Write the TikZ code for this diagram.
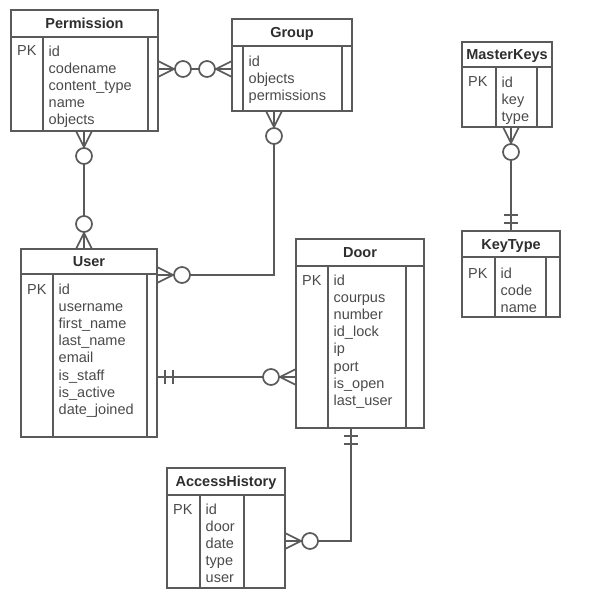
\documentclass[tikz,border=0pt]{standalone}
\usepackage{fontspec}
\setmainfont{Liberation Sans}
\usepackage{tikz}
\definecolor{edge}{HTML}{5A5A5A}
\definecolor{ink}{HTML}{2E2E2E}
\definecolor{soft}{HTML}{4A4A4A}
\tikzset{
  tbl/.style={draw=edge,line width=1.7pt,inner sep=0pt,outer sep=0pt,anchor=north west},
  ttl/.style={font=\bfseries\fontsize{14.5}{17.2}\selectfont,text=ink,anchor=base,inner sep=0pt},
  fld/.style={font=\fontsize{14.5}{17.2}\selectfont,text=soft,anchor=north west,align=left,inner sep=0pt},
  pk/.style={font=\fontsize{14.5}{17.2}\selectfont,text=soft,anchor=base west,inner sep=0pt},
  rel/.style={draw=edge,line width=1.7pt},
  zeromany/.pic={\draw[rel] (0,8) -- (16,0) -- (0,-8) (0,0) -- (16,0); \draw[rel,fill=white] (25,0) circle (8);},
  onlyone/.pic={\draw[rel] (8,-7) -- (8,7) (16,-7) -- (16,7);}
}

\begin{document}
\begin{tikzpicture}[x=1pt,y=-1pt]
  \useasboundingbox (0,0) rectangle (597,596);
  % Permission
  \node[tbl,minimum width=147,minimum height=121] (perm) at (11,10) {};
  \draw[rel] (11,37) -- (158,37) (43,37) -- (43,131) (148,37) -- (148,131);
  \node[ttl] (perm-t) at (84.5,28.7) {Permission};
  \node[pk] (perm-k) at (17,56) {PK};
  \node[fld] (perm-f) at (48.5,45.4) {id\\codename\\content\_type\\name\\objects};
  % Group
  \node[tbl,minimum width=120,minimum height=92] (group) at (232,19) {};
  \draw[rel] (232,46) -- (352,46) (243,46) -- (243,111) (342,46) -- (342,111);
  \node[ttl] (group-t) at (292,37.7) {Group};
  \node[fld] (group-f) at (248.5,55.4) {id\\objects\\permissions};
  % User
  \node[tbl,minimum width=136,minimum height=188] (user) at (21,249) {};
  \draw[rel] (21,274) -- (157,274) (53,274) -- (53,437) (147,274) -- (147,437);
  \node[ttl] (user-t) at (89,266.7) {User};
  \node[pk] (user-k) at (27,294) {PK};
  \node[fld] (user-f) at (58.5,283.4) {id\\username\\first\_name\\last\_name\\email\\is\_staff\\is\_active\\date\_joined};
  % Door
  \node[tbl,minimum width=128,minimum height=189] (door) at (296,239) {};
  \draw[rel] (296,266) -- (424,266) (328,266) -- (328,428) (406,266) -- (406,428);
  \node[ttl] (door-t) at (360,257.7) {Door};
  \node[pk] (door-k) at (302,285) {PK};
  \node[fld] (door-f) at (333.5,274.4) {id\\courpus\\number\\id\_lock\\ip\\port\\is\_open\\last\_user};
  % AccessHistory
  \node[tbl,minimum width=118,minimum height=120] (hist) at (167,468) {};
  \draw[rel] (167,495) -- (285,495) (200,495) -- (200,588) (244,495) -- (244,588);
  \node[ttl] (hist-t) at (226,486.7) {AccessHistory};
  \node[pk] (hist-k) at (173,514) {PK};
  \node[fld] (hist-f) at (205.5,503.4) {id\\door\\date\\type\\user};
  % MasterKeys
  \node[tbl,minimum width=90,minimum height=85] (mkeys) at (462,42) {};
  \draw[rel] (462,67) -- (552,67) (496,67) -- (496,127) (537,67) -- (537,127);
  \node[ttl] (mkeys-t) at (507,59.7) {MasterKeys};
  \node[pk] (mkeys-k) at (468,87) {PK};
  \node[fld] (mkeys-f) at (501.5,76.4) {id\\key\\type};
  % KeyType
  \node[tbl,minimum width=98,minimum height=86] (ktype) at (462,231) {};
  \draw[rel] (462,257) -- (560,257) (495,257) -- (495,317) (546,257) -- (546,317);
  \node[ttl] (ktype-t) at (511,249.2) {KeyType};
  \node[pk] (ktype-k) at (468,278) {PK};
  \node[fld] (ktype-f) at (500.5,267.4) {id\\code\\name};
  % relation ends
  \coordinate (perm-e) at ([yshift=-59pt]perm.north east);
  \coordinate (group-w) at ([yshift=-50pt]group.north west);
  \coordinate (perm-s) at ([xshift=73pt]perm.south west);
  \coordinate (user-n) at ([xshift=63pt]user.north west);
  \coordinate (group-s) at ([xshift=42pt]group.south west);
  \coordinate (user-e) at ([yshift=-26pt]user.north east);
  \coordinate (user-r) at ([yshift=-128pt]user.north east);
  \coordinate (door-w) at ([yshift=-138pt]door.north west);
  \coordinate (door-s) at ([xshift=55pt]door.south west);
  \coordinate (hist-e) at ([yshift=-73pt]hist.north east);
  \coordinate (mkeys-s) at ([xshift=49pt]mkeys.south west);
  \coordinate (ktype-n) at ([xshift=49pt]ktype.north west);
  \draw[rel] (perm-e) -- (group-w);
  \draw[rel] (perm-s) -- (user-n);
  \draw[rel] (group-s) |- (user-e);
  \draw[rel] (user-r) -- (door-w);
  \draw[rel] (door-s) |- (hist-e);
  \draw[rel] (mkeys-s) -- (ktype-n);
  \foreach \c/\r in {perm-e/0,group-w/180,perm-s/-90,user-n/90,group-s/-90,user-e/0,door-w/180,hist-e/0,mkeys-s/-90}
    \pic[rotate=\r] at (\c) {zeromany};
  \foreach \c/\r in {user-r/0,door-s/-90,ktype-n/90}
    \pic[rotate=\r] at (\c) {onlyone};
\end{tikzpicture}
\end{document}
